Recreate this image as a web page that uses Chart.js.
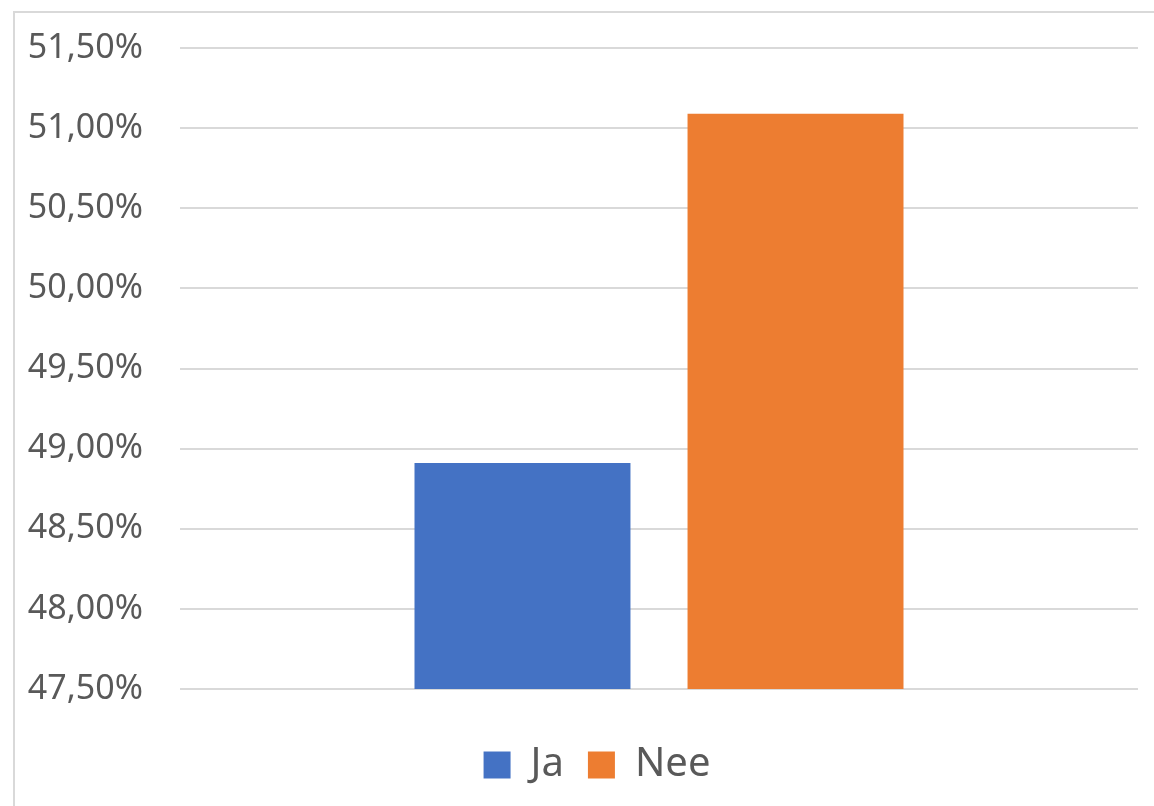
<!DOCTYPE html>
<html>
<head>
<meta charset="utf-8">
<script src="https://cdn.jsdelivr.net/npm/chart.js@4/dist/chart.umd.min.js"></script>
<style>
  html, body { margin: 0; padding: 0; background: #fff; overflow: hidden; }
  #frame {
    position: absolute; left: 13px; top: 11px; width: 1300px; height: 900px;
    border: 2px solid #d9d9d9; box-sizing: border-box;
  }
  #wrap { position: absolute; left: 0; top: 0; width: 1154px; height: 806px; }
</style>
</head>
<body>
<div id="frame"></div>
<div id="wrap"><canvas id="chart"></canvas></div>
<script>
const categories = [''];
const seriesNames = ['Ja', 'Nee'];
const jaValues = [48.91];
const neeValues = [51.09];
const yTicks = [47.5, 48, 48.5, 49, 49.5, 50, 50.5, 51, 51.5];

const textColor = '#595959';
const gridColor = '#d9d9d9';

function pct(v) {
  return v.toFixed(2).replace('.', ',') + '%';
}

// the legend sits centred on the whole chart frame, not on the plot
const legendShift = {
  id: 'legendShift',
  afterLayout(chart) {
    const lg = chart.legend;
    if (!lg) return;
    lg.left += 28;
    lg.right += 28;
  },
};

new Chart(document.getElementById('chart'), {
  type: 'bar',
  data: {
    labels: categories,
    datasets: [
      {
        label: seriesNames[0],
        data: jaValues,
        backgroundColor: '#4472c4',
        borderWidth: 0,
      },
      {
        label: seriesNames[1],
        data: neeValues,
        backgroundColor: '#ed7d31',
        borderWidth: 0,
      },
    ],
  },
  plugins: [legendShift],
  options: {
    responsive: true,
    maintainAspectRatio: false,
    animation: false,
    categoryPercentage: 0.57,
    barPercentage: 0.791,
    layout: {
      padding: { left: 0, right: 16, top: 30, bottom: 11 },
    },
    plugins: {
      legend: {
        position: 'bottom',
        labels: {
          color: textColor,
          font: { family: 'Noto Sans', size: 40 },
          boxWidth: 27,
          boxHeight: 27,
          padding: 24,
        },
      },
      tooltip: { enabled: false },
    },
    scales: {
      x: {
        grid: { display: false },
        border: { display: false },
        ticks: { display: false },
        afterFit(scale) {
          scale.height = 32;
        },
      },
      y: {
        min: yTicks[0],
        max: yTicks[yTicks.length - 1],
        afterBuildTicks(scale) {
          scale.ticks = yTicks.map((v) => ({ value: v }));
        },
        afterFit(scale) {
          scale.width = 180;
        },
        grid: { color: gridColor, lineWidth: 2, drawTicks: false },
        border: { display: false },
        ticks: {
          color: textColor,
          padding: 37,
          // small lineHeight only trims the label overflow above the plot
          font: { family: 'Noto Sans', size: 34, lineHeight: 0.65 },
          callback: (v) => pct(v),
        },
      },
    },
  },
});
</script>
</body>
</html>
